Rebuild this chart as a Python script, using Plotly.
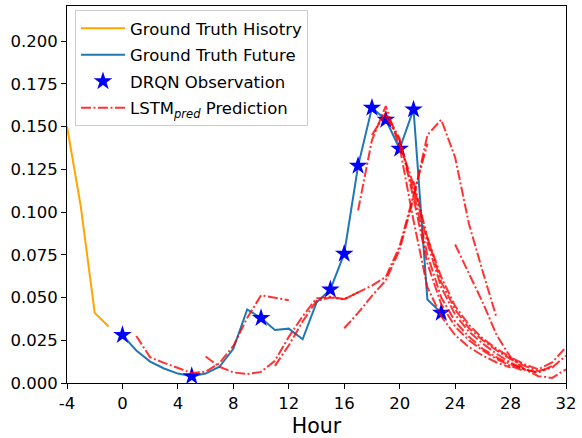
import plotly.graph_objects as go

# ---------------- data ----------------
hist_hours = [-4, -3, -2, -1]
hist_vals = [0.150, 0.103, 0.041, 0.033]

future_hours = list(range(0, 24))
future_vals = [0.028, 0.019, 0.0125, 0.0085, 0.0055, 0.004, 0.0055, 0.0095,
               0.020, 0.043, 0.038, 0.031, 0.0318, 0.0256, 0.047, 0.0547,
               0.0756, 0.127, 0.161, 0.154, 0.137, 0.160, 0.0488, 0.041]

obs_hours = [0, 5, 10, 15, 16, 17, 18, 19, 20, 21, 23]

pred_starts = [1, 6, 11, 16, 17, 18, 19, 20, 21, 22, 24]
pred_p0 = [0.0275, 0.015, 0.0118, 0.009, 0.0058, 0.0066, 0.0116, 0.0217, 0.038, 0.0513, 0.0498, 0.0484]
pred_p5 = [0.0155, 0.0095, 0.0062, 0.0052, 0.0065, 0.013, 0.027, 0.039, 0.0495, 0.0505, 0.049, 0.053]
pred_p10 = [0.010, 0.022, 0.036, 0.048, 0.050, 0.049, 0.053, 0.057, 0.062, 0.080, 0.110, 0.140]
pred_p15 = [0.032, 0.041, 0.051, 0.060, 0.078, 0.108, 0.145, 0.154, 0.132, 0.093, 0.065, 0.038]
pred_p16 = [0.101, 0.142, 0.162, 0.138, 0.095, 0.056, 0.039, 0.028, 0.021, 0.016, 0.012, 0.009]
pred_p17 = [0.145, 0.158, 0.143, 0.108, 0.070, 0.046, 0.033, 0.025, 0.019, 0.014, 0.010, 0.007]
pred_p18 = [0.156, 0.142, 0.112, 0.075, 0.050, 0.036, 0.027, 0.020, 0.015, 0.011, 0.008, 0.006]
pred_p19 = [0.140, 0.116, 0.082, 0.056, 0.040, 0.030, 0.023, 0.017, 0.012, 0.008, 0.006, 0.010]
pred_p20 = [0.118, 0.085, 0.059, 0.043, 0.032, 0.025, 0.019, 0.014, 0.010, 0.007, 0.009, 0.016]
pred_p21 = [0.085, 0.062, 0.045, 0.034, 0.026, 0.020, 0.015, 0.011, 0.008, 0.012, 0.021]
pred_p23 = [0.081, 0.064, 0.047, 0.028, 0.015, 0.008, 0.004, 0.003, 0.008]
pred_series = [pred_p0, pred_p5, pred_p10, pred_p15, pred_p16, pred_p17,
               pred_p18, pred_p19, pred_p20, pred_p21, pred_p23]

x_ticks = list(range(-4, 33, 4))
y_ticks = [0.0, 0.025, 0.05, 0.075, 0.1, 0.125, 0.15, 0.175, 0.2]

# ---------------- figure ----------------
fig = go.Figure()

fig.add_trace(go.Scatter(x=hist_hours, y=hist_vals, mode="lines",
                         line=dict(color="#FFA500", width=2),
                         name="Ground Truth Hisotry", legendgroup="a"))
fig.add_trace(go.Scatter(x=future_hours, y=future_vals, mode="lines",
                         line=dict(color="#1f77b4", width=2),
                         name="Ground Truth Future", legendgroup="b"))
obs_vals = [future_vals[future_hours.index(h)] for h in obs_hours]
fig.add_trace(go.Scatter(x=obs_hours, y=obs_vals, mode="markers",
                         marker=dict(symbol="star", size=14, color="#0000FF",
                                     line=dict(width=0)),
                         name="DRQN Observation", legendgroup="c"))
for i, (s, vals) in enumerate(zip(pred_starts, pred_series)):
    xs = list(range(s, s + len(vals)))
    fig.add_trace(go.Scatter(x=xs, y=vals, mode="lines",
                             line=dict(color="rgba(255,0,0,0.8)", width=2,
                                       dash="10px,2.5px,2px,2.5px"),
                             name="LSTM<sub><i>pred</i></sub> Prediction",
                             legendgroup="d", showlegend=(i == 0)))

axis_common = dict(showline=True, linecolor="#000000", linewidth=1, mirror=True,
                   ticks="outside", ticklen=5, tickwidth=1, tickcolor="#000000",
                   showgrid=False, zeroline=False, ticklabeloverflow="allow",
                   tickfont=dict(family="DejaVu Sans", size=16.5, color="#000000"))

fig.update_layout(
    width=582, height=438,
    margin=dict(l=67, r=10, t=5, b=54),
    plot_bgcolor="white", paper_bgcolor="white",
    font=dict(family="DejaVu Sans", color="#000000"),
    xaxis=dict(range=[-4, 32], tickvals=x_ticks,
               ticktext=[str(v) for v in x_ticks],
               title=dict(text="Hour", font=dict(size=20.5), standoff=6),
               **axis_common),
    yaxis=dict(range=[0, 0.2205], tickvals=y_ticks,
               ticktext=["%.3f" % v for v in y_ticks],
               **axis_common),
    legend=dict(x=0.016, y=0.989, xanchor="left", yanchor="top",
                bgcolor="rgba(255,255,255,0.8)", bordercolor="#cccccc",
                borderwidth=1, font=dict(size=16.5, family="DejaVu Sans"),
                traceorder="grouped", tracegroupgap=2, itemwidth=44),
    showlegend=True,
)

fig.write_html("out.html", config={"displayModeBar": False},
               post_script="document.body.style.margin='0';document.body.style.overflow='hidden';")
